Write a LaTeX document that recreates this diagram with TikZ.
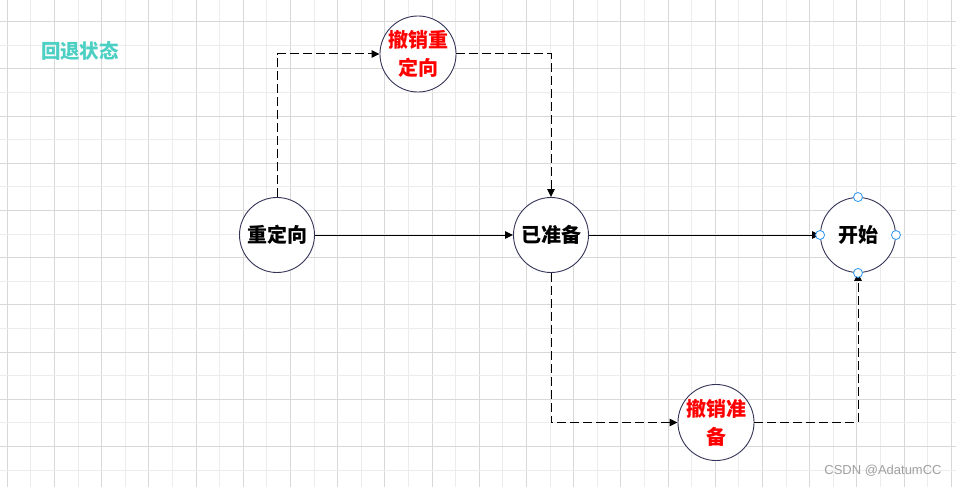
\documentclass[tikz,border=0pt]{standalone}
\usepackage{fontspec}
\setmainfont{Noto Sans CJK SC}
\newfontfamily\wmfont{Liberation Sans}
\usetikzlibrary{arrows.meta}
\definecolor{gridlo}{RGB}{236,236,236}
\definecolor{gridhi}{RGB}{216,216,216}
\definecolor{ringc}{RGB}{52,52,88}
\definecolor{tealc}{RGB}{77,208,196}
\definecolor{handlec}{RGB}{41,150,242}
\definecolor{wmgray}{RGB}{160,160,160}
\tikzset{
  state/.style={circle,draw=ringc,fill=white,line width=0.9pt,minimum size=75pt,inner sep=0pt,
    font=\fontsize{20}{28}\selectfont\bfseries,align=center},
  undo/.style={state,text=red},
  sline/.style={line width=1pt,-{Triangle[length=8pt,width=7.5pt]}},
  dline/.style={sline,dash pattern=on 9pt off 4pt},
  handle/.style={circle,draw=handlec,fill=white,line width=0.8pt,minimum size=9pt,inner sep=0pt},
  every picture/.style={x=1pt,y=-1pt}
}
\begin{document}
\begin{tikzpicture}
  \useasboundingbox[fill=white] (0,0) rectangle (956,487);
  % grid
  \foreach \k in {0,...,40}{
    \pgfmathsetmacro\gx{7.3+\k*23.6}
    \ifodd\k \draw[gridlo,line width=1pt] (\gx,0) -- (\gx,487);
    \else \draw[gridhi,line width=1pt] (\gx,0) -- (\gx,487); \fi
  }
  \foreach \k in {0,...,19}{
    \pgfmathsetmacro\gy{21.7+\k*23.6}
    \ifodd\k \draw[gridlo,line width=1pt] (0,\gy) -- (956,\gy);
    \else \draw[gridhi,line width=1pt] (0,\gy) -- (956,\gy); \fi
  }
  \node[text=tealc,font=\fontsize{19.5}{24}\selectfont\bfseries] (title) at (80,51) {回退状态};
  % states
  \node[state] (redirect) at (277,235) {重定向};
  \node[state] (ready) at (551,235) {已准备};
  \node[state] (start) at (858,235) {开始};
  \node[undo] (undoredirect) at (418,54) {撤销重\\定向};
  \node[undo] (undoready) at (716,422.5) {撤销准\\备};
  % connectors
  \draw[sline] (redirect) -- (ready);
  \draw[sline] (ready) -- (start);
  \draw[dline] (redirect.north) |- (undoredirect.west);
  \draw[dline] (undoredirect.east) -| (ready.north);
  \draw[dline] (ready.south) |- (undoready.west);
  \draw[dline] (undoready.east) -| (start.south);
  \foreach \a in {north,south,east,west}
    \node[handle] (h-\a) at (start.\a) {};
  \node[text=wmgray,font=\wmfont\fontsize{13}{15}\selectfont] (mark) at (883,471) {CSDN @AdatumCC};
\end{tikzpicture}
\end{document}
